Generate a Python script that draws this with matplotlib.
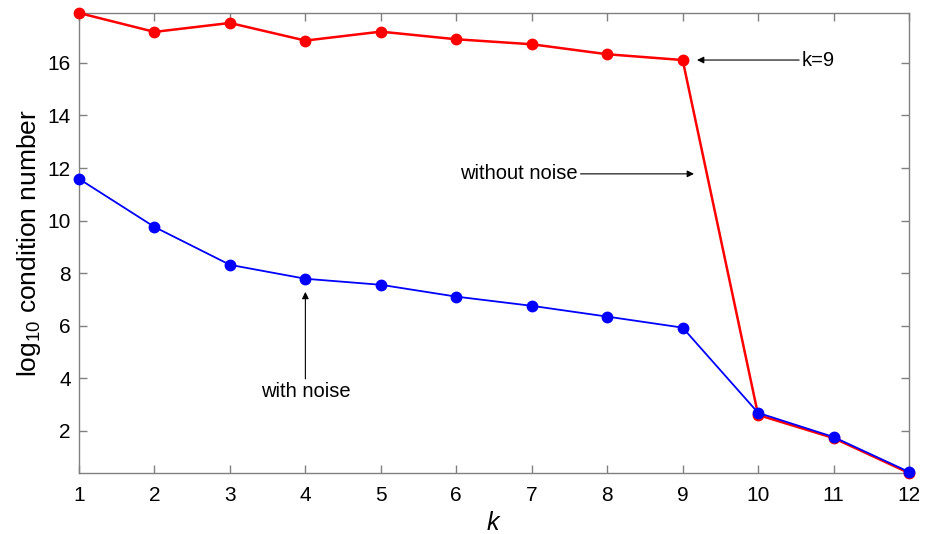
import matplotlib
matplotlib.use("Agg")
import matplotlib.pyplot as plt
import numpy as np

plt.rcParams['font.family'] = ['Liberation Sans', 'DejaVu Sans']
plt.rcParams['mathtext.fontset'] = 'custom'
plt.rcParams['mathtext.rm'] = 'Liberation Sans'
plt.rcParams['mathtext.it'] = 'Liberation Sans:italic'

# data
k = list(range(1, 13))
no_noise = [17.90, 17.18, 17.52, 16.85, 17.19, 16.90, 16.71, 16.33, 16.11, 2.61, 1.73, 0.40]
with_noise = [11.59, 9.76, 8.32, 7.79, 7.56, 7.11, 6.76, 6.35, 5.93, 2.69, 1.77, 0.44]
xticks = k
yticks = [2, 4, 6, 8, 10, 12, 14, 16]

fig = plt.figure(figsize=(9.36, 5.34), dpi=100)
ax = fig.add_axes([0.0844, 0.1142, 0.8868, 0.8615])

ax.plot(k, no_noise, color="red", lw=1.8, marker="o", ms=7.5, clip_on=False, zorder=3)
ax.plot(k, with_noise, color="blue", lw=1.3, marker="o", ms=7.5, clip_on=False, zorder=4)

ax.set_xlim(1, 12)
ax.set_ylim(min(no_noise + with_noise), max(no_noise + with_noise))
ax.set_xticks(xticks)
ax.set_yticks(yticks)

for s in ax.spines.values():
    s.set_color("#808080")
    s.set_linewidth(1.0)
ax.tick_params(direction="in", length=6, width=1.0, color="#808080",
               top=True, right=True, labelsize=15, labelcolor="black")
ax.tick_params(axis="x", pad=9)
ax.tick_params(axis="y", pad=6)

ax.set_xlabel("$k$", fontsize=18, labelpad=5)
ax.set_ylabel("log$_{10}$ condition number", fontsize=19, labelpad=3)

arrow = dict(arrowstyle="-|>", color="black", lw=0.8, mutation_scale=10, shrinkA=0, shrinkB=0)
ax.annotate("k=9", xy=(9.19, no_noise[8]), xytext=(10.58, no_noise[8]),
            ha="left", va="center", fontsize=14.5, arrowprops=arrow)
ax.annotate("without noise", xy=(9.15, 11.78), xytext=(7.61, 11.78),
            ha="right", va="center", fontsize=14.5, arrowprops=arrow)
ax.annotate("", xy=(4.0, 7.29), xytext=(4.0, 3.98), arrowprops=arrow)
ax.text(4.0, 3.49, "with noise", ha="center", va="center", fontsize=14.5)

fig.savefig("out.png", dpi=100)
